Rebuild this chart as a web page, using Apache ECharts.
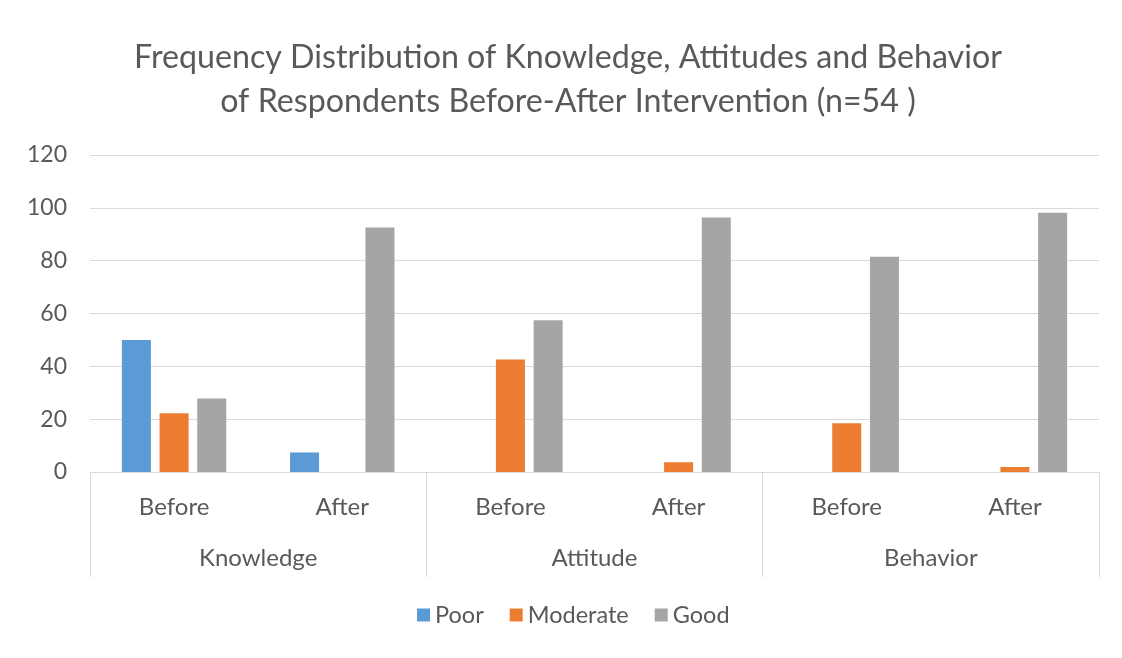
<!DOCTYPE html>
<html>
<head>
<meta charset="utf-8">
<script src="https://cdn.jsdelivr.net/npm/echarts@6/dist/echarts.min.js"></script>
<style>
html,body{margin:0;padding:0;background:#fff;}
#chart{width:1122px;height:658px;}
</style>
</head>
<body>
<div id="chart"></div>
<script>
const subCategories = ['Before', 'After', 'Before', 'After', 'Before', 'After'];
const groupCategories = ['Knowledge', 'Attitude', 'Behavior'];
const poor = [50, 7.4, 0, 0, 0, 0];
const moderate = [22.2, 0, 42.6, 3.7, 18.5, 1.9];
const good = [27.8, 92.6, 57.4, 96.3, 81.5, 98.1];
const yTicks = { min: 0, max: 120, interval: 20 };

const FONT = 'Lato, "Open Sans", sans-serif';
const TXT = '#595959';
const LINE = '#d9d9d9';

const chart = echarts.init(document.getElementById('chart'));
chart.setOption({
  animation: false,
  backgroundColor: '#fff',
  title: {
    text: 'Frequency Distribution of Knowledge, Attitudes and Behavior\nof Respondents Before-After Intervention (n=54 )',
    left: 563,
    textAlign: 'center',
    top: 31,
    textStyle: { fontFamily: FONT, fontWeight: 'normal', fontSize: 32.2, color: TXT, lineHeight: 44 }
  },
  legend: {
    bottom: 26,
    left: 412,
    itemWidth: 13,
    itemHeight: 13,
    itemGap: 26,
    icon: 'rect',
    textStyle: { fontFamily: FONT, fontSize: 23.5, color: TXT },
    data: ['Poor', 'Moderate', 'Good']
  },
  grid: { left: 90, right: 23, top: 155, bottom: 186 },
  xAxis: [
    {
      type: 'category',
      data: subCategories,
      position: 'bottom',
      axisLine: { show: true, lineStyle: { color: LINE, width: 1 } },
      axisTick: { show: false },
      axisLabel: { fontFamily: FONT, fontSize: 24, color: TXT, margin: 23, interval: 0 }
    },
    {
      type: 'category',
      data: groupCategories,
      position: 'bottom',
      gridIndex: 0,
      axisLine: { show: false },
      axisTick: { show: true, length: 105, lineStyle: { color: LINE, width: 1 } },
      axisLabel: { fontFamily: FONT, fontSize: 24, color: TXT, margin: 74, interval: 0 }
    }
  ],
  yAxis: {
    type: 'value',
    min: yTicks.min,
    max: yTicks.max,
    interval: yTicks.interval,
    axisLine: { show: false },
    axisTick: { show: false },
    splitLine: { lineStyle: { color: LINE, width: 1 } },
    axisLabel: { fontFamily: FONT, fontSize: 23, color: TXT, margin: 23 }
  },
  series: [
    { name: 'Poor', type: 'bar', data: poor, barWidth: 29, barGap: '30%', itemStyle: { color: '#5b9bd5' } },
    { name: 'Moderate', type: 'bar', data: moderate, barWidth: 29, barGap: '30%', itemStyle: { color: '#ed7d31' } },
    { name: 'Good', type: 'bar', data: good, barWidth: 29, barGap: '30%', itemStyle: { color: '#a5a5a5' } }
  ]
});
</script>
</body>
</html>
